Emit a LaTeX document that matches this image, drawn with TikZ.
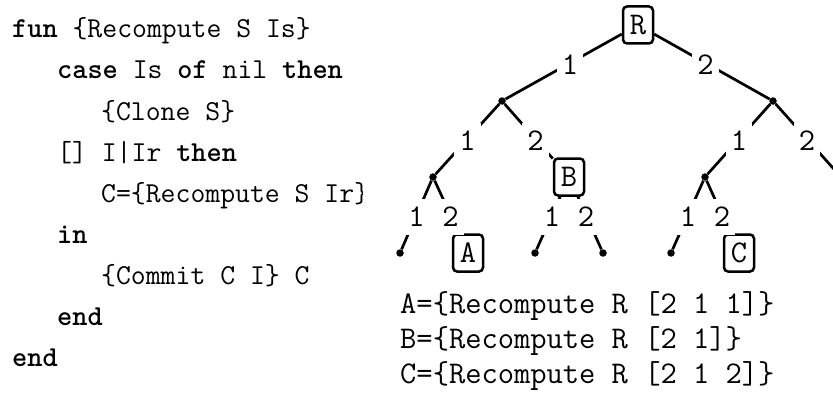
\documentclass[tikz,border=0pt]{standalone}
\usetikzlibrary{calc}
\begin{document}
\begin{tikzpicture}[x=1pt,y=-1pt,
  codeline/.style={font=\fontsize{28.9}{41}\selectfont\ttfamily, anchor=base west, inner sep=0pt},
  treefont/.style={font=\fontsize{31.6}{35}\selectfont\ttfamily},
  statebox/.style={treefont, draw, line width=2.5pt, rounded corners=4pt, minimum width=30pt, minimum height=37pt, inner sep=0pt, fill=white},
  choicept/.style={circle, fill=black, inner sep=0pt, minimum size=7.5pt},
  edge/.style={line width=2.7pt},
  brlabel/.style={treefont, fill=white, inner xsep=5pt, inner ysep=8pt, yshift=-2pt},
  result/.style={treefont, anchor=base west, inner sep=0pt}
]
\clip (0,0) rectangle (833,396);
\fill[white] (0,0) rectangle (833,396);
% code
\begin{scope}
\clip (0,0) rectangle (362,396);
\node[codeline] (c1) at (12,38)  {\textbf{fun} \{Recompute S Is\}};
\node[codeline] (c2) at (57,79)  {\textbf{case} Is \textbf{of} nil \textbf{then}};
\node[codeline] (c3) at (101,120) {\{Clone S\}};
\node[codeline] (c4) at (57,161) {[] I|Ir \textbf{then}};
\node[codeline] (c5) at (101,202) {C=\{Recompute S Ir\}};
\node[codeline] (c6) at (57,243) {\textbf{in}};
\node[codeline] (c7) at (101,284) {\{Commit C I\} C};
\node[codeline] (c8) at (57,325) {\textbf{end}};
\node[codeline] (c9) at (12,366) {\textbf{end}};
\end{scope}
% tree nodes
\node[statebox] (R) at (638,25) {R};
\node[choicept] (L) at (502,101) {};
\node[choicept] (Rn) at (773,101) {};
\node[choicept] (LL) at (433,177) {};
\node[statebox] (B) at (569,177) {B};
\node[choicept] (RL) at (705,177) {};
\coordinate (RR) at (841,177);
\node[choicept] (LLL) at (400,253) {};
\node[statebox] (A) at (468,253) {A};
\node[choicept] (BL) at (535,253) {};
\node[choicept] (BR) at (603,253) {};
\node[choicept] (RLL) at (671,253) {};
\node[statebox] (C) at (739,253) {C};
% edges
\draw[edge] (R) -- (L);
\draw[edge] (R) -- (Rn);
\draw[edge] (L) -- (LL);
\draw[edge] (L) -- (B);
\draw[edge] (Rn) -- (RL);
\draw[edge] (Rn) -- (RR);
\draw[edge] (LL) -- (LLL);
\draw[edge] (LL) -- (A);
\draw[edge] (B) -- (BL);
\draw[edge] (B) -- (BR);
\draw[edge] (RL) -- (RLL);
\draw[edge] (RL) -- (C);
% branch labels
\node[brlabel] (e1) at ($(R)!.5!(L)$) {1};
\node[brlabel] (e2) at ($(R)!.5!(Rn)$) {2};
\node[brlabel] (e3) at ($(L)!.5!(LL)$) {1};
\node[brlabel] (e4) at ($(L)!.5!(B)$) {2};
\node[brlabel] (e5) at ($(Rn)!.5!(RL)$) {1};
\node[brlabel] (e6) at ($(Rn)!.5!(RR)$) {2};
\node[brlabel] (e7) at ($(LL)!.5!(LLL)$) {1};
\node[brlabel] (e8) at ($(LL)!.5!(A)$) {2};
\node[brlabel] (e9) at ($(B)!.5!(BL)$) {1};
\node[brlabel] (e10) at ($(B)!.5!(BR)$) {2};
\node[brlabel] (e11) at ($(RL)!.5!(RLL)$) {1};
\node[brlabel] (e12) at ($(RL)!.5!(C)$) {2};
% results
\node[result] (ra) at (400,313) {A=\{Recompute R [2 1 1]\}};
\node[result] (rb) at (400,348) {B=\{Recompute R [2 1]\}};
\node[result] (rc) at (400,383) {C=\{Recompute R [2 1 2]\}};
\end{tikzpicture}
\end{document}
